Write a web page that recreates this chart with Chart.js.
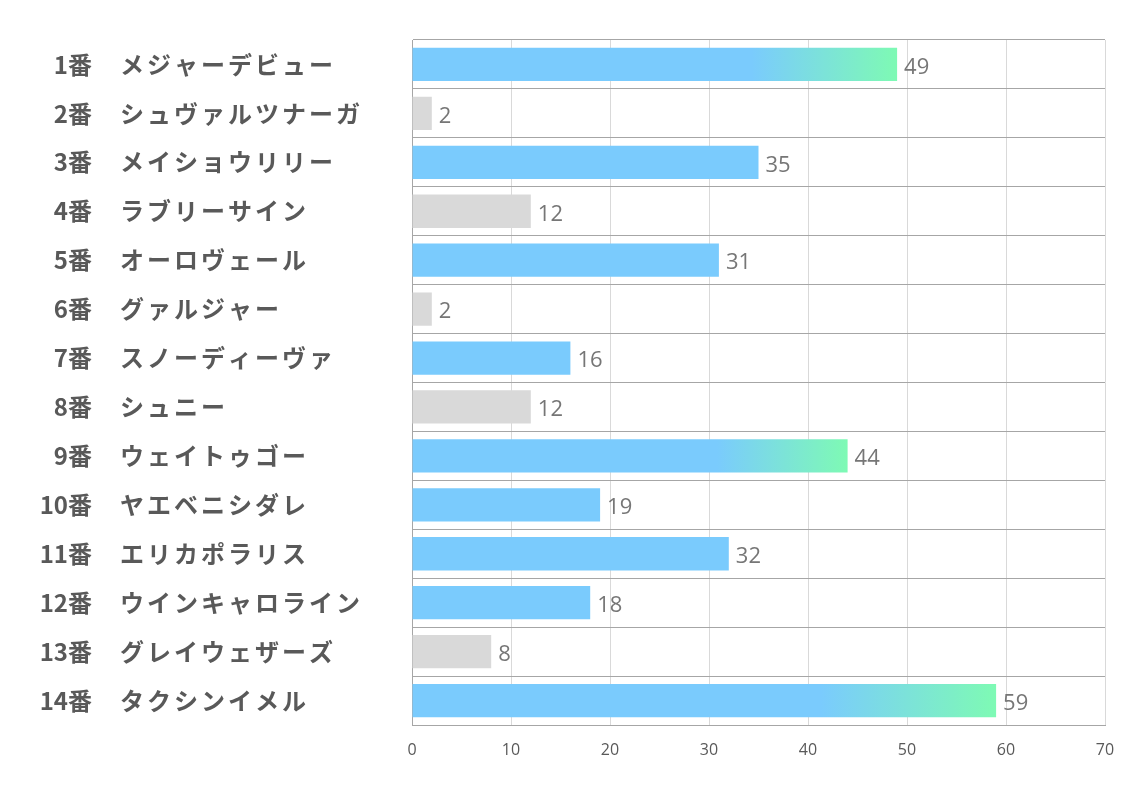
<!DOCTYPE html>
<html>
<head>
<meta charset="utf-8">
<script src="https://cdn.jsdelivr.net/npm/chart.js@4"></script>
<style>
  html, body { margin: 0; padding: 0; background: #fff; }
  #wrap { width: 1134px; height: 793px; }
</style>
</head>
<body>
<div id="wrap"><canvas id="myChart"></canvas></div>
<script>
'use strict';

const numbers = ['1番', '2番', '3番', '4番', '5番', '6番', '7番', '8番', '9番', '10番', '11番', '12番', '13番', '14番'];
const horses = ['メジャーデビュー', 'シュヴァルツナーガ', 'メイショウリリー', 'ラブリーサイン', 'オーロヴェール', 'グァルジャー', 'スノーディーヴァ', 'シュニー', 'ウェイトゥゴー', 'ヤエベニシダレ', 'エリカポラリス', 'ウインキャロライン', 'グレイウェザーズ', 'タクシンイメル'];
const values = [49, 2, 35, 12, 31, 2, 16, 12, 44, 19, 32, 18, 8, 59];
// b = blue, g = gray, h = blue with green end
const kinds = ['h', 'g', 'b', 'g', 'b', 'g', 'b', 'g', 'h', 'b', 'b', 'b', 'g', 'h'];
const xTicks = [0, 10, 20, 30, 40, 50, 60, 70];

const BLUE = '#7acbfd';
const GREEN = '#7efab4';
const GRAY = '#d9d9d9';

const barColor = (context) => {
	const i = context.dataIndex;
	const kind = kinds[i];
	if (kind === 'g') return GRAY;
	if (kind === 'b') return BLUE;
	const chart = context.chart;
	if (!chart.chartArea) return BLUE;
	const x0 = chart.scales.x.getPixelForValue(0);
	const x1 = chart.scales.x.getPixelForValue(values[i]);
	const grad = chart.ctx.createLinearGradient(x0, 0, x1, 0);
	grad.addColorStop(0, BLUE);
	grad.addColorStop(0.7, BLUE);
	grad.addColorStop(1, GREEN);
	return grad;
};

const labelPlugin = {
	id: 'labels',
	afterDraw(chart) {
		const ctx = chart.ctx;
		const yScale = chart.scales.y;
		ctx.save();
		ctx.fillStyle = '#595959';
		ctx.textBaseline = 'middle';
		ctx.font = 'bold 24px "Noto Sans CJK JP"';
		numbers.forEach((n, i) => {
			const y = yScale.getPixelForTick(i);
			ctx.letterSpacing = '0px';
			ctx.textAlign = 'right';
			ctx.fillText(n, 92, y);
			ctx.letterSpacing = '3px';
			ctx.textAlign = 'left';
			ctx.fillText(horses[i], 120, y);
		});
		// value labels
		ctx.letterSpacing = '0px';
		ctx.font = '22px "Open Sans"';
		ctx.fillStyle = '#767676';
		ctx.textAlign = 'left';
		const meta = chart.getDatasetMeta(0);
		meta.data.forEach((bar, i) => {
			ctx.fillText(String(values[i]), bar.x + 7, bar.y + 3);
		});
		ctx.restore();
	},
};

const ctx = document.getElementById('myChart').getContext('2d');

const myChart = new Chart(ctx, {
	type: 'bar',
	data: {
		labels: numbers,
		datasets: [
			{
				data: values,
				backgroundColor: barColor,
				borderWidth: 0,
				barPercentage: 0.68,
				categoryPercentage: 1,
			},
		],
	},
	options: {
		indexAxis: 'y',
		responsive: true,
		maintainAspectRatio: false,
		animation: false,
		layout: {
			padding: { top: 40, right: 29, left: 0, bottom: 0 },
		},
		plugins: {
			legend: { display: false },
			tooltip: { enabled: false },
		},
		scales: {
			x: {
				min: 0,
				max: 70,
				afterBuildTicks(scale) {
					scale.ticks = xTicks.map((v) => ({ value: v }));
				},
				afterFit(scale) {
					scale.height = 68;
				},
				grid: {
					color: '#d9d9d9',
					drawTicks: false,
				},
				border: { display: true, color: '#a6a6a6' },
				ticks: {
					padding: 16,
					color: '#595959',
					font: { family: '"Open Sans"', size: 16 },
				},
			},
			y: {
				afterFit(scale) {
					scale.width = 412;
				},
				grid: {
					color: '#a6a6a6',
					drawTicks: false,
					offset: true,
				},
				border: { display: true, color: '#a6a6a6' },
				ticks: { display: false },
			},
		},
	},
	plugins: [labelPlugin],
});
</script>
</body>
</html>
